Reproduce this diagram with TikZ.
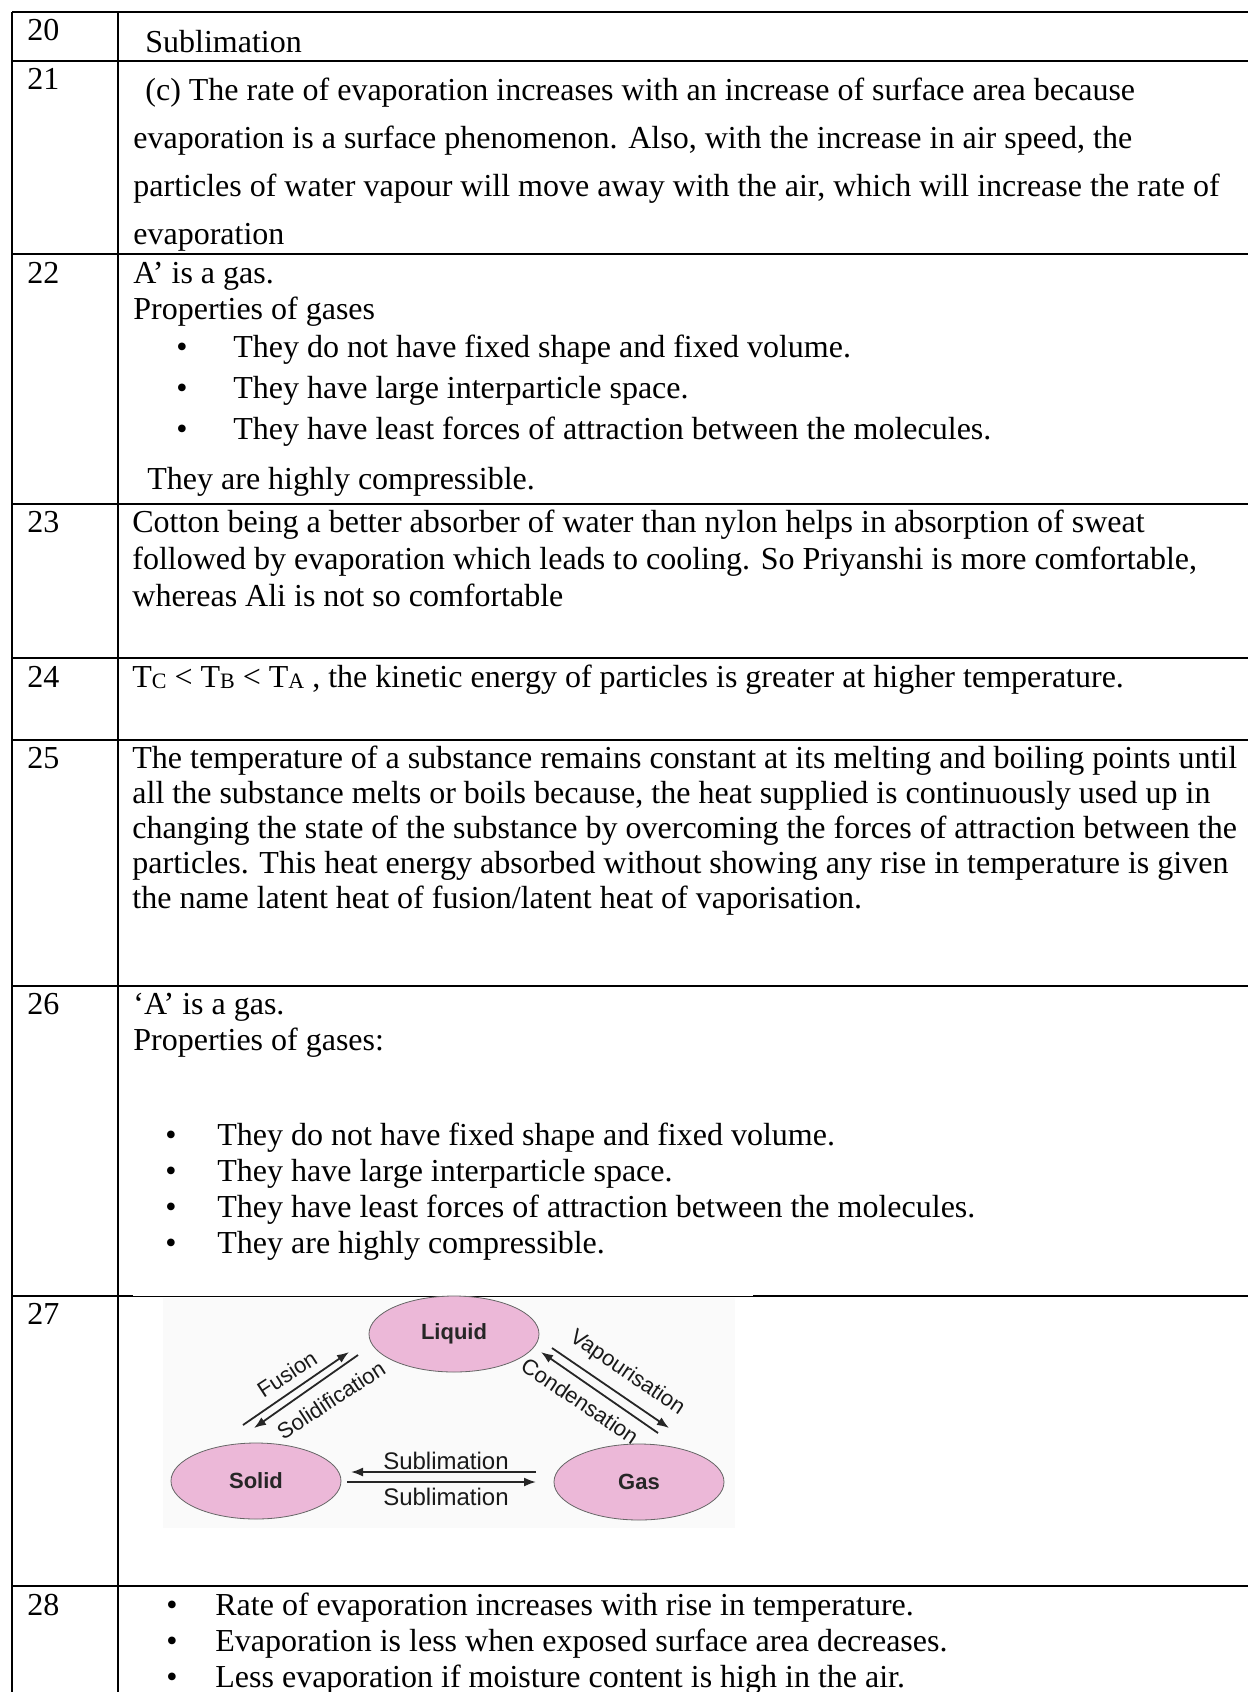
\documentclass[tikz,border=0pt]{standalone}
\usepackage{fontspec}
\setmainfont{Liberation Serif}
\setsansfont{Liberation Sans}
\usetikzlibrary{arrows.meta, positioning, shapes.geometric}
\definecolor{phasepink}{RGB}{236,184,216}
\newcommand{\lowcap}[1]{\raisebox{-0.6pt}{\fontsize{11}{12}\selectfont #1}}

\begin{document}
\begin{tikzpicture}[
		x=0.5pt, y=-0.5pt,
		font=\fontsize{16}{19}\selectfont,
		cell/.style={anchor=base west, inner sep=0pt},
		bul/.style={anchor=base, inner sep=0pt},
		rule/.style={line width=1pt},
		phase/.style={
			ellipse,
			draw=black!60,
			line width=0.4pt,
			fill=phasepink,
			minimum width=85pt,
			minimum height=38pt,
			inner sep=0pt,
			font=\sffamily\bfseries\fontsize{11}{13}\selectfont,
			text=black!85
		},
		lbl/.style={inner sep=0pt, font=\sffamily\fontsize{12}{14}\selectfont, text=black!90},
		slant lbl/.style={lbl, font=\sffamily\fontsize{11}{13}\selectfont},
		arr/.style={-{Latex[length=6pt, width=4.5pt]}, line width=0.9pt, black!85}
		]
		
		\useasboundingbox (0,0) rectangle (1248,1692);
		\fill[white] (0,0) rectangle (1248,1692);
		
		% --- Grid ---
		\foreach \y in {12,61,254,504,658,740,986,1586}
			\draw[rule] (12,\y) -- (1248,\y);
		\draw[rule] (12,1296) -- (133,1296);
		\draw[line width=0.5pt] (133,1296) -- (753,1296);
		\draw[rule] (753,1296) -- (1248,1296);
		\draw[rule] (12,12) -- (12,1692);
		\draw[rule] (118,12) -- (118,1692);
		
		% --- Question numbers ---
		\foreach \n/\y in {20/40,21/89,22/283,23/532,24/687,25/768,26/1014,27/1324,28/1615}
			\node[cell] (num\n) at (27,\y) {\n};
		
		% --- Row 20 ---
		\node[cell] (subl) at (145,52) {Sublimation};
		
		% --- Row 21 ---
		\node[cell] (r21a) at (145,100) {(c) The rate of evaporation increases with an increase of surface area because};
		\node[cell] (r21b) at (133,148) {evaporation is a surface phenomenon. Also, with the increase in air speed, the};
		\node[cell] (r21c) at (133,196) {particles of water vapour will move away with the air, which will increase the rate of};
		\node[cell] (r21d) at (133,244) {evaporation};
		
		% --- Row 22 ---
		\node[cell] (r22a) at (133,283) {A’ is a gas.};
		\node[cell] (r22b) at (133,319) {Properties of gases};
		\foreach \t/\y [count=\i] in {{They do not have fixed shape and fixed volume.}/357,
			{They have large interparticle space.}/398,
			{They have least forces of attraction between the molecules.}/439}{
			\node[bul] (dotA\i) at (182,\y) {\textbullet};
			\node[cell] (itemA\i) at (233,\y) {\t};
		}
		\node[cell] (r22f) at (147,489) {They are highly compressible.};
		
		% --- Row 23 ---
		\node[cell] (r23a) at (132,532) {Cotton being a better absorber of water than nylon helps in absorption of sweat};
		\node[cell] (r23b) at (132,569) {followed by evaporation which leads to cooling. So Priyanshi is more comfortable,};
		\node[cell] (r23c) at (132,606) {whereas Ali is not so comfortable};
		
		% --- Row 24 ---
		\node[cell] (r24) at (132,687) {T\lowcap{C} < T\lowcap{B} < T\lowcap{A} , the kinetic energy of particles is greater at higher temperature.};
		
		% --- Row 25 ---
		\node[cell] (r25a) at (132,768) {The temperature of a substance remains constant at its melting and boiling points until};
		\node[cell] (r25b) at (132,803) {all the substance melts or boils because, the heat supplied is continuously used up in};
		\node[cell] (r25c) at (132,838) {changing the state of the substance by overcoming the forces of attraction between the};
		\node[cell] (r25d) at (132,873) {particles. This heat energy absorbed without showing any rise in temperature is given};
		\node[cell] (r25e) at (132,908) {the name latent heat of fusion/latent heat of vaporisation.};
		
		% --- Row 26 ---
		\node[cell] (r26a) at (133,1014) {‘A’ is a gas.};
		\node[cell] (r26b) at (133,1050) {Properties of gases:};
		\foreach \t/\y [count=\i] in {{They do not have fixed shape and fixed volume.}/1145,
			{They have large interparticle space.}/1181,
			{They have least forces of attraction between the molecules.}/1217,
			{They are highly compressible.}/1253}{
			\node[bul] (dotB\i) at (171,\y) {\textbullet};
			\node[cell] (itemB\i) at (217,\y) {\t};
		}
		
		% --- Row 27: change of state ---
		\fill[black!2] (163,1298) rectangle (735,1528);
		\node[phase] (liquid) at (454,1334) {Liquid};
		\node[phase] (solid) at (256,1481) {Solid};
		\node[phase] (gas) at (639,1482) {Gas};
		
		\coordinate (fusA) at (243,1425);
		\coordinate (fusB) at (349,1352);
		\coordinate (solA) at (358,1355);
		\coordinate (solB) at (254,1428);
		\coordinate (vapA) at (552,1348);
		\coordinate (vapB) at (669,1428);
		\coordinate (conA) at (658,1433);
		\coordinate (conB) at (541,1352);
		\coordinate (subA) at (536,1472);
		\coordinate (subB) at (351,1472);
		\coordinate (subC) at (347,1482);
		\coordinate (subD) at (536,1482);
		
		\draw[arr] (fusA) -- (fusB);
		\draw[arr] (solA) -- (solB);
		\draw[arr] (vapA) -- (vapB);
		\draw[arr] (conA) -- (conB);
		\draw[arr] (subA) -- (subB);
		\draw[arr] (subC) -- (subD);
		
		\node[slant lbl, rotate=33] (fusL) at (287,1374) {Fusion};
		\node[slant lbl, rotate=33] (solL) at (331,1400) {Solidification};
		\node[slant lbl, rotate=-34] (vapL) at (627,1373) {Vapourisation};
		\node[slant lbl, rotate=-34] (conL) at (580,1401) {Condensation};
		\node[lbl] (subL1) at (446,1461) {Sublimation};
		\node[lbl] (subL2) at (446,1497) {Sublimation};
		
		% --- Row 28 ---
		\foreach \t/\y [count=\i] in {{Rate of evaporation increases with rise in temperature.}/1615,
			{Evaporation is less when exposed surface area decreases.}/1651,
			{Less evaporation if moisture content is high in the air.}/1687}{
			\node[bul] (dotC\i) at (172,\y) {\textbullet};
			\node[cell] (itemC\i) at (215,\y) {\t};
		}
		
	\end{tikzpicture}
\end{document}
